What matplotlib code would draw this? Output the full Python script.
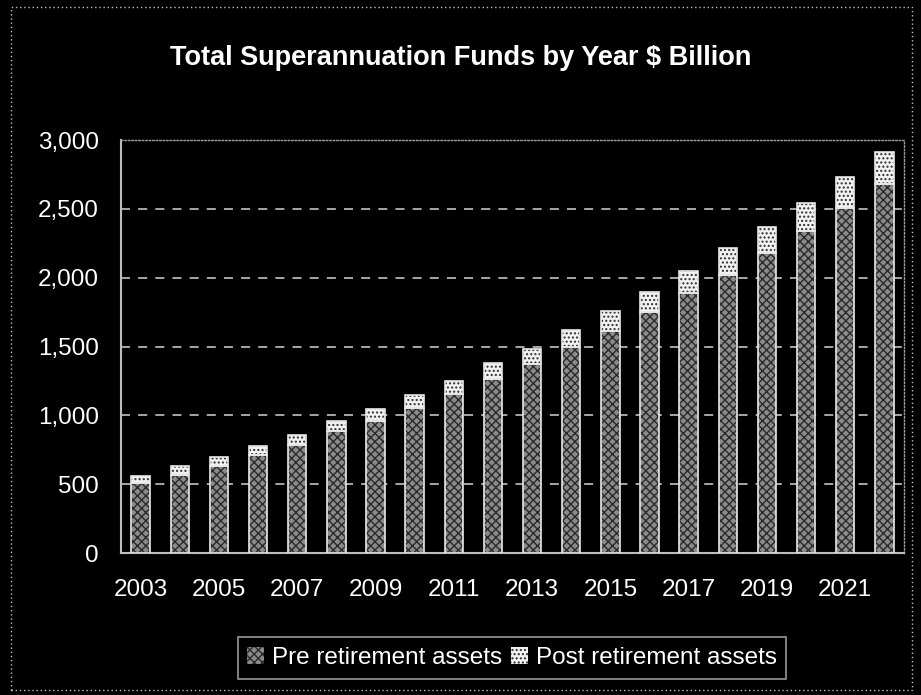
import matplotlib
matplotlib.use("Agg")
import matplotlib.pyplot as plt
from matplotlib.patches import Rectangle, Patch
import numpy as np

years = [2003, 2004, 2005, 2006, 2007, 2008, 2009, 2010, 2011, 2012,
         2013, 2014, 2015, 2016, 2017, 2018, 2019, 2020, 2021, 2022]
pre_retirement = [510, 569, 632, 712, 782, 884, 959, 1055, 1152, 1264,
                  1372, 1494, 1614, 1752, 1890, 2019, 2176, 2338, 2503, 2680]
total_funds = [559, 632, 695, 777, 859, 956, 1048, 1147, 1251, 1382,
               1481, 1619, 1757, 1898, 2046, 2213, 2367, 2544, 2731, 2914]
post_retirement = [t - p for t, p in zip(total_funds, pre_retirement)]
tick_years = [str(y) if (y - 2003) % 2 == 0 else "" for y in years]
y_ticks = [0, 500, 1000, 1500, 2000, 2500, 3000]

plt.rcParams['font.family'] = ['Liberation Sans', 'DejaVu Sans']
plt.rcParams['hatch.linewidth'] = 1.0

fig = plt.figure(figsize=(9.21, 6.95), dpi=100, facecolor='black')
ax = fig.add_axes([121/921, 1-553/695, (904-121)/921, (553-140)/695])
ax.set_facecolor('black')

x = np.arange(len(years))
w = 0.47
ax.bar(x, pre_retirement, w, color='#8a8a8a', edgecolor='#2a2a2a', hatch='xxxx', linewidth=0, zorder=3)
ax.bar(x, post_retirement, w, bottom=pre_retirement, color='#f2f2f2', edgecolor='#303030', hatch='....', linewidth=0, zorder=3)
ax.bar(x, pre_retirement, w, fill=False, edgecolor='#e8e8e8', linewidth=1.2, zorder=4)
ax.bar(x, post_retirement, w, bottom=pre_retirement, fill=False, edgecolor='#e8e8e8', linewidth=1.2, zorder=4)

ax.set_xlim(-0.5, len(years) - 0.5)
ax.set_ylim(0, 3000)
ax.set_yticks(y_ticks)
ax.set_yticklabels([f"{v:,}" for v in y_ticks])
ax.set_xticks(x)
ax.set_xticklabels(tick_years)
ax.tick_params(axis='x', length=0, pad=19, labelsize=17.5, colors='white')
ax.tick_params(axis='y', length=0, pad=16, labelsize=17.5, colors='white')

for v in y_ticks[1:-1]:
    ax.axhline(v, color='#b4b4b4', linestyle=(0, (5, 4.5)), linewidth=1.3, zorder=1)

for s in ['left', 'bottom']:
    ax.spines[s].set_color('#bdbdbd')
    ax.spines[s].set_linewidth(1.5)
for s in ['top', 'right']:
    ax.spines[s].set_color('#a0a0a0')
    ax.spines[s].set_linestyle((0, (1, 1.5)))
    ax.spines[s].set_linewidth(1.0)

fig.text(0.5, 1-58/695, "Total Superannuation Funds by Year $ Billion", color='white',
         fontsize=19.5, fontweight='bold', ha='center', va='center')

handles = [Patch(facecolor='#8a8a8a', edgecolor='#2a2a2a', hatch='xxxx', linewidth=0),
           Patch(facecolor='#f2f2f2', edgecolor='#303030', hatch='....', linewidth=0)]
leg = fig.legend(handles, ["Pre retirement assets", "Post retirement assets"],
                 loc='center', bbox_to_anchor=(512/921, 1-658/695), ncol=2,
                 fontsize=17.5, frameon=True, fancybox=False, facecolor='black',
                 edgecolor='#bdbdbd', labelcolor='white', handlelength=0.7,
                 handleheight=0.7, handletextpad=0.3, columnspacing=0.4,
                 borderpad=0.4, borderaxespad=0)
leg.get_frame().set_linewidth(1.2)

fig.patches.append(Rectangle((11/921, 1-690/695), (912-11)/921, (690-7)/695,
                             transform=fig.transFigure, fill=False,
                             edgecolor='#c0c0c0', linestyle=(0, (1, 2)), linewidth=1.0))

fig.savefig("out.png", dpi=100, facecolor='black')
